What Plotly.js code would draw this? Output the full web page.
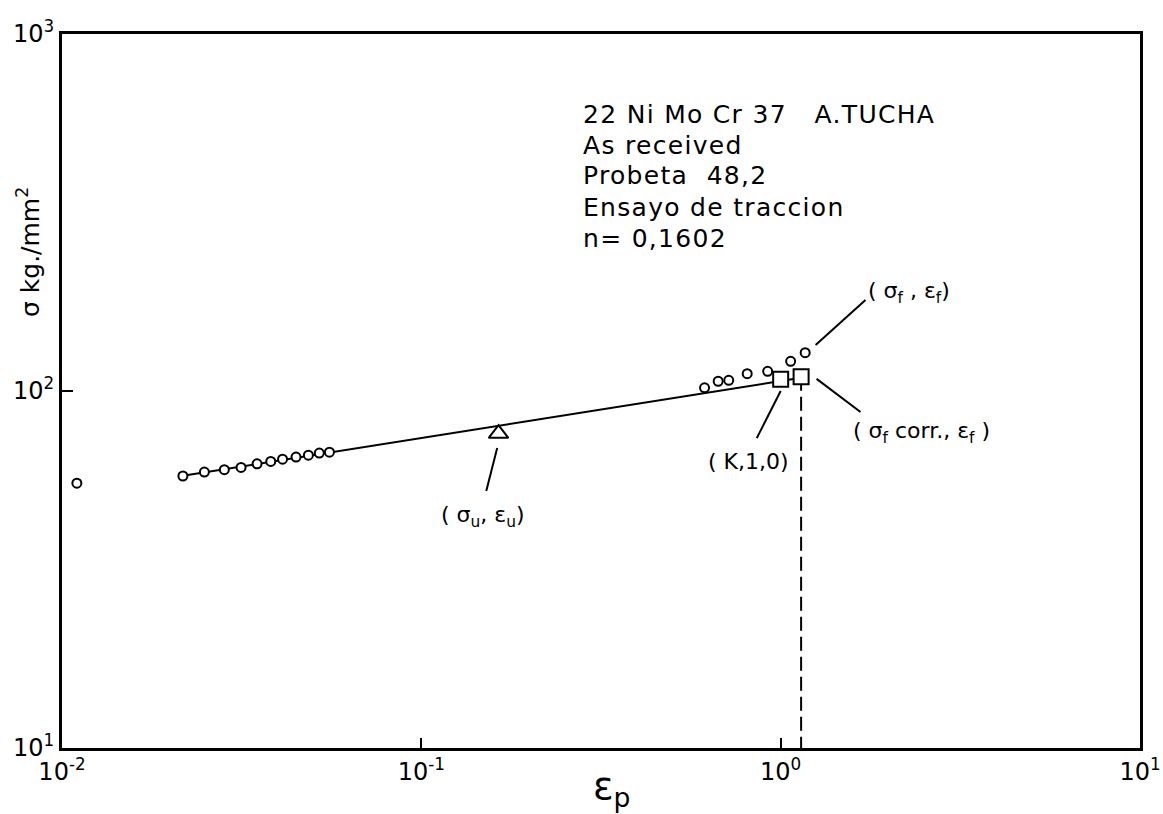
<!DOCTYPE html>
<html>
<head>
<meta charset="utf-8">
<script src="https://cdn.plot.ly/plotly-3.0.1.min.js"></script>
<style>html,body{margin:0;padding:0;background:#fff;}#chart{width:1163px;height:814px;}</style>
</head>
<body>
<div id="chart"></div>
<script>
// ---- data ----
const strainPts = [0.011, 0.0217, 0.0249, 0.0283, 0.0315, 0.0349, 0.0381, 0.0411, 0.0448, 0.0485, 0.0520, 0.0555, 0.614, 0.670, 0.717, 0.807, 0.920, 1.066, 1.170];
const stressPts = [55.2, 57.8, 59.3, 60.2, 61.1, 62.5, 63.5, 64.4, 65.3, 66.1, 67.0, 67.4, 102.1, 106.5, 107.1, 111.8, 113.5, 121.1, 128.0];
const fitStrain = [0.0217, 1.14];
const fitStress = [57.9, 108.9];
const uStrain = [0.164];
const uStress = [76];
const sqStrain = [1.0, 1.14];
const sqStress = [107.8, 109.7];
const fracStrain = [1.14, 1.14];
const fracStress = [109.7, 10];
const xTickVals = [0.01, 0.1, 1, 10];
const xTickText = ['10<sup>-2</sup>', '10<sup>-1</sup>', '10<sup>0</sup>', '10<sup>1</sup>'];
const yTickVals = [10, 100, 1000];
const yTickText = ['10<sup>1</sup>', '10<sup>2</sup>', '10<sup>3</sup>'];
const infoLines = ['22 Ni Mo Cr 37\u00A0\u00A0\u00A0A.TUCHA', 'As received', 'Probeta\u00A0 48,2', 'Ensayo de traccion', 'n= 0,1602'];
// leader lines: [strain0, stress0, strain1, stress1]
const leaders = [
  [1.251, 134.6, 1.722, 179.9],
  [1.259, 108.1, 1.668, 87.3],
  [1.0, 100, 0.858, 73.8],
  [0.1626, 69.2, 0.1516, 52.5]
];

const FONT = 'DejaVu Sans, Liberation Sans, sans-serif';
const L = 62, R = 1140, T = 34, B = 748;
const px = x => (x - L) / (R - L);
const py = y => (B - y) / (B - T);

const traces = [
  {x: fitStrain, y: fitStress, mode: 'lines', line: {color: '#000', width: 2}, hoverinfo: 'skip'},
  {x: fracStrain, y: fracStress, mode: 'lines', line: {color: '#000', width: 2, dash: '14px,6px'}, hoverinfo: 'skip'}
];
leaders.forEach(l => traces.push({x: [l[0], l[2]], y: [l[1], l[3]], mode: 'lines', line: {color: '#000', width: 2}, hoverinfo: 'skip'}));
traces.push(
  {x: strainPts, y: stressPts, mode: 'markers', marker: {symbol: 'circle', size: 9, color: '#fff', line: {color: '#000', width: 2}}},
  {x: uStrain, y: uStress, mode: 'markers', marker: {symbol: 'triangle-up', size: 17, color: '#fff', line: {color: '#000', width: 2}}},
  {x: sqStrain, y: sqStress, mode: 'markers', marker: {symbol: 'square', size: 15, color: '#fff', line: {color: '#000', width: 2}}}
);

const ann = [];
infoLines.forEach((t, i) => ann.push({xref: 'paper', yref: 'paper', x: px(581), y: py(114 + i * 31), xanchor: 'left', yanchor: 'middle', text: t, showarrow: false, font: {family: FONT, size: 25, color: '#000'}}));
const lbl = (t, x, y) => ann.push({xref: 'paper', yref: 'paper', x: px(x), y: py(y), xanchor: 'center', yanchor: 'middle', text: t, showarrow: false, font: {family: FONT, size: 22, color: '#000'}});
lbl('( σ<sub>f</sub> , ε<sub>f</sub>)', 909, 292);
lbl('( σ<sub>f</sub> corr., ε<sub>f</sub> )', 921, 432);
lbl('( K,1,0)', 748, 461);
lbl('( σ<sub>u</sub>, ε<sub>u</sub>)', 483, 516);
ann.push({xref: 'paper', yref: 'paper', x: px(28), y: py(252), xanchor: 'center', yanchor: 'middle', textangle: -90, text: 'σ kg./mm<sup>2</sup>', showarrow: false, font: {family: FONT, size: 25, color: '#000'}});
ann.push({xref: 'paper', yref: 'paper', x: px(611), y: py(788), xanchor: 'center', yanchor: 'middle', text: 'ε<sub>p</sub>', showarrow: false, font: {family: FONT, size: 38, color: '#000'}});

const layout = {
  width: 1163, height: 814,
  margin: {l: L, r: 1163 - R, t: T, b: 814 - B, pad: 0},
  paper_bgcolor: '#fff', plot_bgcolor: '#fff',
  showlegend: false,
  font: {family: FONT, color: '#000', size: 24},
  xaxis: {type: 'log', range: [-2, 1], tickvals: xTickVals, ticktext: xTickText, ticks: 'inside', ticklen: 10, tickwidth: 2, tickcolor: '#000',
          showline: true, linewidth: 3, linecolor: '#000', mirror: true, showgrid: false, zeroline: false, tickfont: {family: FONT, size: 24}},
  yaxis: {type: 'log', range: [1, 3], tickvals: yTickVals, ticktext: yTickText, ticks: 'inside', ticklen: 11, tickwidth: 2, tickcolor: '#000',
          showline: true, linewidth: 3, linecolor: '#000', mirror: true, showgrid: false, zeroline: false, tickfont: {family: FONT, size: 24}},
  annotations: ann
};
Plotly.newPlot('chart', traces, layout, {displayModeBar: false, staticPlot: true}).then(() => {
  document.querySelectorAll('.annotation-text').forEach(el => {
    if (infoLines.includes(el.textContent)) {
      const left = el.getBBox().x;
      el.style.letterSpacing = '1.3px';
      el.setAttribute('text-anchor', 'start');
      el.setAttribute('x', left);
    }
  });
});
</script>
</body>
</html>
